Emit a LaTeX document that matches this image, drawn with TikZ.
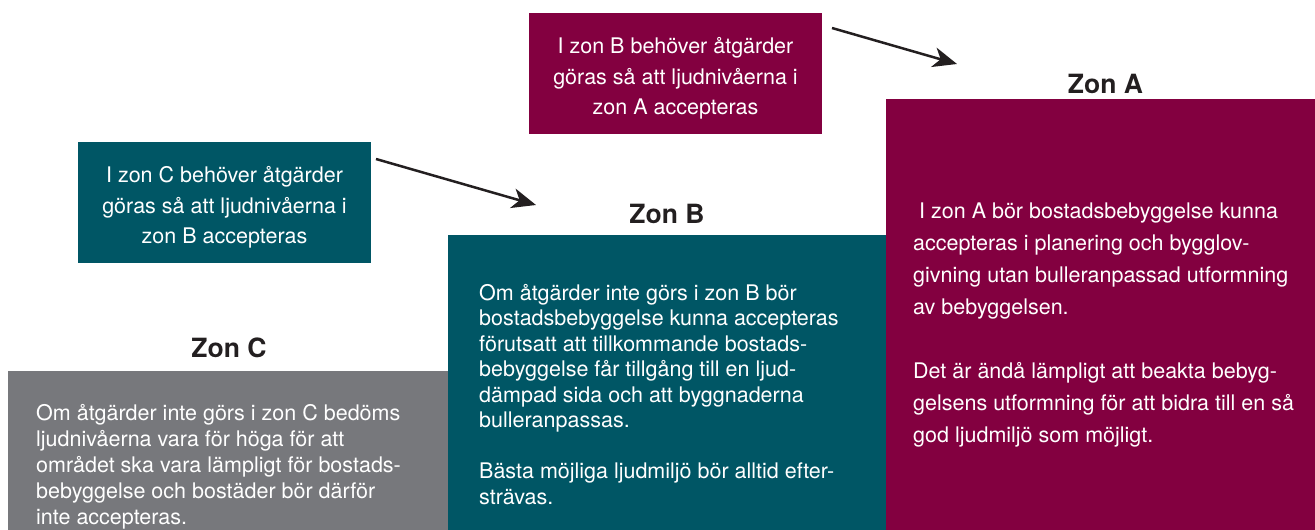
\documentclass[tikz,border=0pt]{standalone}
\usepackage{fontspec}
\setmainfont{TeX Gyre Heros}
\usepackage{xcolor}
\usetikzlibrary{arrows.meta,positioning,calc}

\definecolor{zonA}{HTML}{830040}
\definecolor{zonB}{HTML}{005665}
\definecolor{zonC}{HTML}{77787C}
\definecolor{rubrikfarg}{HTML}{231F20}

\begin{document}
\begin{tikzpicture}[x=1pt, y=-1pt,
  zonbox/.style={inner sep=0pt, outer sep=0pt, anchor=north west},
  brodtext/.style={text=white, inner sep=0pt, align=left, anchor=base west,
    font=\fontsize{21.5}{25.5}\selectfont},
  infobox/.style={text=white, inner sep=0pt, outer sep=0pt, align=center, anchor=north west,
    font=\fontsize{21.5}{30.8}\selectfont},
  rubrik/.style={text=rubrikfarg, inner sep=0pt, anchor=base,
    font=\fontsize{26.5}{30}\selectfont\bfseries},
  pil/.style={line width=2.5pt, rubrikfarg, -{Stealth[length=24pt, width=20pt, inset=7pt]}}]

  \useasboundingbox (0,0) rectangle (1315,530);

  % Zone boxes
  \node[zonbox, fill=zonA, minimum width=429, minimum height=431] (boxA) at (886,99) {};
  \node[zonbox, fill=zonB, minimum width=438, minimum height=295] (boxB) at (448,235) {};
  \node[zonbox, fill=zonC, minimum width=440, minimum height=159] (boxC) at (8,371) {};

  % Headings
  \node[rubrik] (rubrikA) at ([shift={(5pt,6pt)}]boxA.north) {Zon A};
  \node[rubrik] (rubrikB) at ([yshift=12pt]boxB.north) {Zon B};
  \node[rubrik] (rubrikC) at ([shift={(1pt,14pt)}]boxC.north) {Zon C};

  % Texts in the zones (anchored at the last line)
  \node[brodtext, font=\fontsize{21.5}{32}\selectfont] (textA) at ([shift={(27,343)}]boxA.north west)
    {\ I zon A bör bostadsbebyggelse kunna\\
     accepteras i planering och bygglov-\\
     givning utan bulleranpassad utformning\\
     av bebyggelsen.\\[32pt]
     Det är ändå lämpligt att beakta bebyg-\\
     gelsens utformning för att bidra till en så\\
     god ljudmiljö som möjligt.};
  \node[brodtext] (textB) at ([shift={(31,269)}]boxB.north west)
    {Om åtgärder inte görs i zon B bör\\
     bostadsbebyggelse kunna accepteras\\
     förutsatt att tillkommande bostads-\\
     bebyggelse får tillgång till en ljud-\\
     dämpad sida och att byggnaderna\\
     bulleranpassas.\\[25.5pt]
     Bästa möjliga ljudmiljö bör alltid efter-\\
     strävas.};
  \node[brodtext, font=\fontsize{21.5}{25.8}\selectfont] (textC) at ([shift={(28,153)}]boxC.north west)
    {Om åtgärder inte görs i zon C bedöms\\
     ljudnivåerna vara för höga för att\\
     området ska vara lämpligt för bostads-\\
     bebyggelse och bostäder bör därför\\
     inte accepteras.};

  % Callouts
  \node[infobox, fill=zonA, minimum width=293, minimum height=121] (infoBA) at (529,13)
    {\rule{0pt}{26pt}I zon B behöver åtgärder\\ göras så att ljudnivåerna i\\ zon A accepteras};
  \node[infobox, fill=zonB, minimum width=293, minimum height=121] (infoCB) at (78,142)
    {\rule{0pt}{26pt}I zon C behöver åtgärder\\ göras så att ljudnivåerna i\\ zon B accepteras};

  % Arrows
  \coordinate (spetsA) at (957,64);
  \coordinate (spetsB) at (536,205);
  \draw[pil] ([shift={(10,15)}]infoBA.north east) -- (spetsA);
  \draw[pil] ([shift={(5,17)}]infoCB.north east) -- (spetsB);
\end{tikzpicture}
\end{document}
